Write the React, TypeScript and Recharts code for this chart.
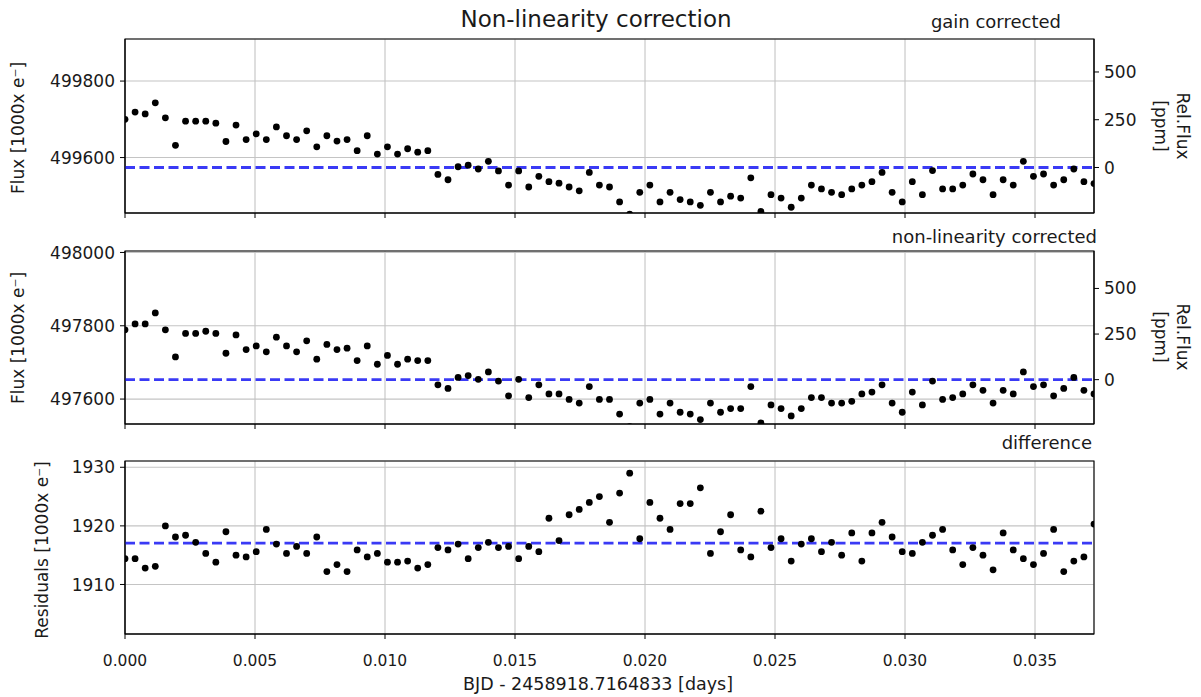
import {
  ScatterChart,
  Scatter,
  XAxis,
  YAxis,
  CartesianGrid,
  ReferenceLine,
  ReferenceArea,
} from "recharts";

// time since first exposure [days]
const times = [
  0.0, 0.000388, 0.000776, 0.001165, 0.001553, 0.001941, 0.002329, 0.002718, 0.003106, 0.003494,
  0.003882, 0.00427, 0.004659, 0.005047, 0.005435, 0.005823, 0.006212, 0.0066, 0.006988, 0.007376,
  0.007764, 0.008153, 0.008541, 0.008929, 0.009317, 0.009706, 0.010094, 0.010482, 0.01087, 0.011258,
  0.011647, 0.012035, 0.012423, 0.012811, 0.013199, 0.013588, 0.013976, 0.014364, 0.014752, 0.015141,
  0.015529, 0.015917, 0.016305, 0.016693, 0.017082, 0.01747, 0.017858, 0.018246, 0.018635, 0.019023,
  0.019411, 0.019799, 0.020187, 0.020576, 0.020964, 0.021352, 0.02174, 0.022129, 0.022517, 0.022905,
  0.023293, 0.023681, 0.02407, 0.024458, 0.024846, 0.025234, 0.025623, 0.026011, 0.026399, 0.026787,
  0.027175, 0.027564, 0.027952, 0.02834, 0.028728, 0.029117, 0.029505, 0.029893, 0.030281, 0.030669,
  0.031058, 0.031446, 0.031834, 0.032222, 0.032611, 0.032999, 0.033387, 0.033775, 0.034163, 0.034552,
  0.03494, 0.035328, 0.035716, 0.036105, 0.036493, 0.036881, 0.037269,
];

// flux [1000x e-], gain corrected
const gainCorrected = [
  499700, 499719, 499714, 499743, 499704, 499632, 499695, 499695, 499695, 499690,
  499642, 499685, 499647, 499662, 499647, 499680, 499657, 499647, 499670, 499628,
  499657, 499643, 499647, 499618, 499657, 499609, 499628, 499609, 499623, 499614,
  499618, 499556, 499542, 499576, 499580, 499570, 499590, 499565, 499528, 499565,
  499523, 499551, 499537, 499533, 499523, 499513, 499561, 499528, 499523, 499484,
  499452, 499509, 499528, 499484, 499509, 499490, 499484, 499475, 499509, 499484,
  499499, 499494, 499547, 499459, 499503, 499494, 499470, 499494, 499528, 499518,
  499509, 499503, 499518, 499528, 499537, 499561, 499509, 499484, 499537, 499503,
  499566, 499518, 499518, 499528, 499557, 499542, 499503, 499542, 499528, 499590,
  499551, 499557, 499528, 499542, 499570, 499537, 499532,
];

// flux [1000x e-], non-linearity corrected
const nonlinCorrected = [
  497789, 497805, 497805, 497835, 497789, 497715, 497779, 497779, 497785, 497779,
  497725, 497775, 497735, 497745, 497729, 497769, 497745, 497729, 497759, 497709,
  497749, 497735, 497739, 497705, 497745, 497695, 497719, 497695, 497709, 497705,
  497705, 497639, 497629, 497659, 497664, 497654, 497674, 497649, 497609, 497654,
  497604, 497639, 497614, 497614, 497599, 497589, 497634, 497599, 497599, 497559,
  497525, 497589, 497599, 497559, 497589, 497564, 497559, 497544, 497589, 497564,
  497574, 497574, 497634, 497535, 497584, 497574, 497554, 497574, 497604, 497604,
  497589, 497589, 497594, 497614, 497619, 497639, 497589, 497564, 497619, 497584,
  497649, 497599, 497604, 497614, 497639, 497624, 497589, 497624, 497614, 497674,
  497634, 497639, 497609, 497629, 497659, 497624, 497614,
];

// residuals [1000x e-]
const residuals = [
  1914.4, 1914.4, 1912.8, 1913.1, 1920.0, 1918.1, 1918.4, 1917.2, 1915.3, 1913.8,
  1919.0, 1915.0, 1914.7, 1915.6, 1919.4, 1916.9, 1915.3, 1916.5, 1915.3, 1918.1,
  1912.2, 1913.4, 1912.2, 1915.9, 1914.7, 1915.3, 1913.8, 1913.8, 1914.0, 1912.8,
  1913.4, 1916.3, 1915.9, 1916.9, 1914.4, 1916.3, 1917.2, 1916.3, 1916.5, 1914.4,
  1916.5, 1915.6, 1921.3, 1917.5, 1921.9, 1922.8, 1924.0, 1925.0, 1920.6, 1925.6,
  1929.0, 1917.8, 1924.0, 1921.3, 1919.4, 1923.8, 1923.8, 1926.5, 1915.3, 1919.0,
  1921.9, 1915.9, 1914.7, 1922.5, 1916.3, 1917.8, 1914.0, 1916.9, 1917.8, 1915.6,
  1917.2, 1915.0, 1918.8, 1914.0, 1918.8, 1920.6, 1918.1, 1915.6, 1915.3, 1917.2,
  1918.4, 1919.4, 1915.9, 1913.4, 1916.3, 1915.0, 1912.5, 1918.8, 1915.9, 1914.4,
  1913.4, 1915.3, 1919.4, 1912.2, 1914.0, 1914.7, 1920.3,
];

const gainLevel = 499574;
const nonlinLevel = 497653;
const residualLevel = 1917.05;

const xTicks = [0, 0.005, 0.01, 0.015, 0.02, 0.025, 0.03, 0.035];
const gainTicks = [499600, 499800];
const nonlinTicks = [497600, 497800, 498000];
const residualTicks = [1910, 1920, 1930];
const ppmTicks = [0, 250, 500];

const FONT = "DejaVu Sans";
const TEXT = "#1a1a1a";
const W = 1201;
const X_MAX = times[times.length - 1];

const Dot = (p: any) => <circle cx={p.cx} cy={p.cy} r={3.4} fill='#000' />;
const NoLabel = () => <g />;

type PanelProps = {
  top: number;
  height: number;
  margin: { top: number; right: number; bottom: number; left: number };
  values: number[];
  level: number;
  yDomain: [number, number];
  yTicks: number[];
  ppm: boolean;
  xLabels: boolean;
  xHeight: number;
};

function Panel({ top, height, margin, values, level, yDomain, yTicks, ppm, xLabels, xHeight }: PanelProps) {
  const data = times.map((t, i) => ({ t, v: values[i] }));
  const ppmDomain: [number, number] = [
    (yDomain[0] / level - 1) * 1e6,
    (yDomain[1] / level - 1) * 1e6,
  ];
  const yTickStyle = { fontFamily: FONT, fontSize: 17, fill: TEXT };
  const xTickStyle = { fontFamily: FONT, fontSize: 15.5, fill: TEXT };
  return (
    <div style={{ position: "absolute", left: 0, top }}>
      <ScatterChart width={W} height={height} margin={margin}>
        <CartesianGrid stroke='#c4c4c4' strokeWidth={1.1} />
        <XAxis
          type='number'
          dataKey='t'
          domain={[0, X_MAX]}
          ticks={xTicks}
          allowDataOverflow
          height={xHeight}
          tick={xLabels ? xTickStyle : NoLabel}
          tickFormatter={(v: number) => v.toFixed(3)}
          tickLine={{ stroke: "#000" }}
          tickSize={5}
          tickMargin={16}
          axisLine={{ stroke: "#000" }}
          interval={0}
        />
        <YAxis
          type='number'
          dataKey='v'
          domain={yDomain}
          ticks={yTicks}
          allowDataOverflow
          width={60}
          tick={yTickStyle}
          tickLine={{ stroke: "#000" }}
          tickSize={5}
          tickMargin={5}
          axisLine={{ stroke: "#000" }}
          interval={0}
        />
        {ppm && (
          <YAxis
            yAxisId='ppm'
            orientation='right'
            type='number'
            domain={ppmDomain}
            ticks={ppmTicks}
            allowDataOverflow
            width={50}
            tick={{ ...yTickStyle, textAnchor: "start" }}
            tickLine={{ stroke: "#000" }}
            tickSize={5}
            tickMargin={5}
            axisLine={{ stroke: "#000" }}
            interval={0}
          />
        )}
        <Scatter data={data} shape={Dot} isAnimationActive={false} />
        <ReferenceLine
          y={level}
          stroke='#3a3af5'
          strokeWidth={2.8}
          strokeDasharray='10 4.5'
        />
        <ReferenceArea
          x1={0}
          x2={X_MAX}
          y1={yDomain[0]}
          y2={yDomain[1]}
          ifOverflow='visible'
          fill='none'
          fillOpacity={0}
          stroke='#000'
          strokeWidth={1.1}
        />
      </ScatterChart>
    </div>
  );
}

export default function App() {
  return (
    <div
      style={{
        position: "absolute",
        left: 0,
        top: 0,
        width: W,
        height: 697,
        background: "#fff",
        fontFamily: FONT,
      }}
    >
      <Panel
        top={0}
        height={230}
        margin={{ top: 39, right: 57, bottom: 7, left: 65 }}
        values={gainCorrected}
        level={gainLevel}
        yDomain={[499455, 499910]}
        yTicks={gainTicks}
        ppm
        xLabels={false}
        xHeight={10}
      />
      <Panel
        top={230}
        height={210}
        margin={{ top: 21, right: 57, bottom: 6, left: 65 }}
        values={nonlinCorrected}
        level={nonlinLevel}
        yDomain={[497532, 498004]}
        yTicks={nonlinTicks}
        ppm
        xLabels={false}
        xHeight={10}
      />
      <Panel
        top={440}
        height={257}
        margin={{ top: 21, right: 107, bottom: 33, left: 65 }}
        values={residuals}
        level={residualLevel}
        yDomain={[1901.55, 1931.07]}
        yTicks={residualTicks}
        ppm={false}
        xLabels
        xHeight={30}
      />
      <svg
        width={W}
        height={697}
        style={{ position: "absolute", left: 0, top: 0, pointerEvents: "none" }}
        fontFamily={FONT}
        fill={TEXT}
      >
        <text x={596} y={27} fontSize={23} textAnchor='middle'>
          Non-linearity correction
        </text>
        <text x={1061} y={28} fontSize={18} textAnchor='end'>
          gain corrected
        </text>
        <text x={1097} y={243} fontSize={18} textAnchor='end'>
          non-linearity corrected
        </text>
        <text x={1092} y={449} fontSize={18} textAnchor='end'>
          difference
        </text>
        <text x={0} y={0} fontSize={17} textAnchor='middle' transform='translate(24,128) rotate(-90)'>
          Flux [1000x e⁻]
        </text>
        <text x={0} y={0} fontSize={17} textAnchor='middle' transform='translate(24,338) rotate(-90)'>
          Flux [1000x e⁻]
        </text>
        <text x={0} y={0} fontSize={17} textAnchor='middle' transform='translate(48,550) rotate(-90)'>
          Residuals [1000x e⁻]
        </text>
        <text x={0} y={0} fontSize={17} textAnchor='middle' transform='translate(1177,126) rotate(90)'>
          Rel.Flux
        </text>
        <text x={0} y={0} fontSize={17} textAnchor='middle' transform='translate(1155,126) rotate(90)'>
          [ppm]
        </text>
        <text x={0} y={0} fontSize={17} textAnchor='middle' transform='translate(1177,337) rotate(90)'>
          Rel.Flux
        </text>
        <text x={0} y={0} fontSize={17} textAnchor='middle' transform='translate(1155,337) rotate(90)'>
          [ppm]
        </text>
        <text x={598} y={690} fontSize={17.5} textAnchor='middle'>
          BJD - 2458918.7164833 [days]
        </text>
      </svg>
    </div>
  );
}
